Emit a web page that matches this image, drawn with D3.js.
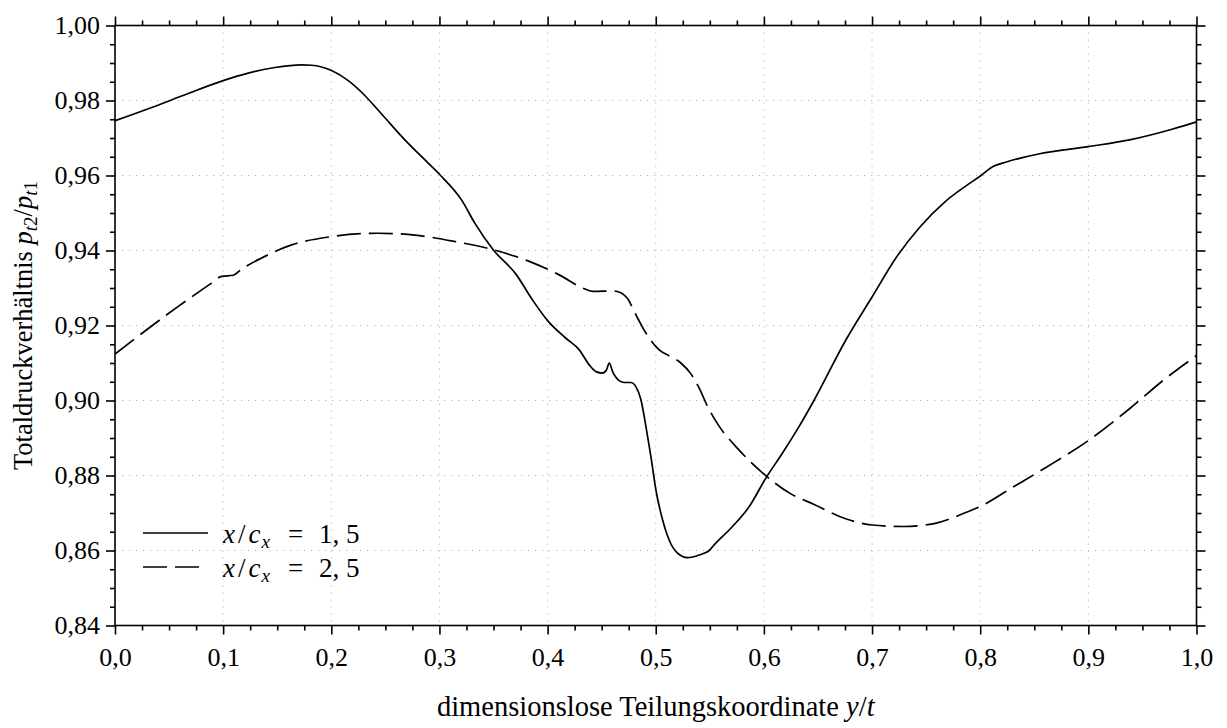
<!DOCTYPE html>
<html>
<head>
<meta charset="utf-8">
<script src="https://cdn.jsdelivr.net/npm/d3@7"></script>
<style>
  html, body { margin: 0; padding: 0; background: #fff; }
  svg { display: block; font-family: "Liberation Serif", "Times New Roman", serif; }
  .tick text { font-size: 26px; fill: #000; font-family: "Liberation Serif", serif; }
</style>
</head>
<body>
<svg id="chart" width="1227" height="728"></svg>
<script>
// Pitch position y/t and total pressure ratio at x/c_x = 1,5
const posA = [0, 0.0308, 0.0616, 0.1, 0.1232, 0.1479, 0.1725, 0.1818, 0.2002, 0.2157,
  0.228, 0.2465, 0.268, 0.2896, 0.3004, 0.3204, 0.3327, 0.3497, 0.3707, 0.3861,
  0.4, 0.4169, 0.4293, 0.4385, 0.4447, 0.4508, 0.4545, 0.457, 0.4601, 0.4662,
  0.4709, 0.477, 0.4816, 0.4863, 0.4909, 0.4955, 0.5001, 0.5063, 0.5124, 0.5201,
  0.5294, 0.5402, 0.5494, 0.554, 0.571, 0.5864, 0.6018, 0.6172, 0.6326, 0.6455,
  0.6763, 0.7, 0.7225, 0.7441, 0.7687, 0.7872, 0.7998, 0.8118, 0.8242, 0.855,
  0.9, 0.9381, 0.9782, 1.0];
const ratioA = [0.9746, 0.9778, 0.9812, 0.9853, 0.9873, 0.9888, 0.9895, 0.9894, 0.9880, 0.9853,
  0.9822, 0.9764, 0.9695, 0.9633, 0.9602, 0.9535, 0.9473, 0.9402, 0.9337, 0.9268,
  0.9213, 0.9166, 0.9135, 0.9095, 0.9077, 0.9073, 0.9082, 0.9100, 0.9077, 0.9053,
  0.9048, 0.9048, 0.9037, 0.9002, 0.8931, 0.8851, 0.8762, 0.8682, 0.8628, 0.8593,
  0.8581, 0.8588, 0.8600, 0.8615, 0.8664, 0.8717, 0.8793, 0.8860, 0.8931, 0.8996,
  0.9164, 0.9276, 0.9382, 0.9462, 0.9533, 0.9573, 0.9598, 0.9624, 0.9636, 0.9658,
  0.9677, 0.9695, 0.9724, 0.9743];

// Pitch position y/t and total pressure ratio at x/c_x = 2,5
const posB = [0, 0.0216, 0.0585, 0.0893, 0.0986, 0.1094, 0.117, 0.1356, 0.1633, 0.2002,
  0.2434, 0.2773, 0.3142, 0.3497, 0.383, 0.4108, 0.4323, 0.4416, 0.4616, 0.4724,
  0.4832, 0.4909, 0.5032, 0.5124, 0.5232, 0.5325, 0.5402, 0.5479, 0.5587, 0.5741,
  0.5956, 0.6249, 0.6455, 0.6763, 0.7, 0.7287, 0.7564, 0.7872, 0.7998, 0.8303,
  0.8611, 0.9, 0.9381, 0.9689, 1.0];
const ratioB = [0.9124, 0.9172, 0.9251, 0.9313, 0.9331, 0.9334, 0.9350, 0.9380, 0.9415, 0.9437,
  0.9446, 0.9441, 0.9424, 0.9402, 0.9371, 0.9335, 0.9300, 0.9291, 0.9292, 0.9277,
  0.9220, 0.9180, 0.9135, 0.9119, 0.9100, 0.9071, 0.9033, 0.8984, 0.8931, 0.8877,
  0.8815, 0.8751, 0.8724, 0.8684, 0.8668, 0.8664, 0.8671, 0.8702, 0.8717, 0.8769,
  0.8822, 0.8893, 0.8978, 0.9053, 0.9120];

const xTicks = [0, 0.1, 0.2, 0.3, 0.4, 0.5, 0.6, 0.7, 0.8, 0.9, 1.0];
const yTicks = [0.84, 0.86, 0.88, 0.90, 0.92, 0.94, 0.96, 0.98, 1.00];
const seriesLabels = [["1,", "5"], ["2,", "5"]];

const svg = d3.select("#chart");
const pL = 115, pR = 1196.5, pT = 25.5, pB = 625.5;

const x = d3.scaleLinear().domain([0, 1]).range([pL, pR]);
const y = d3.scaleLinear().domain([0.84, 1.00]).range([pB, pT]);

const de = d3.formatLocale({ decimal: ",", thousands: ".", grouping: [3], currency: ["", " €"] });
const fx = de.format(".1f"), fy = de.format(".2f");

const xMinor = d3.range(0, 1.0001, 0.025).filter(v => Math.abs(v * 10 - Math.round(v * 10)) > 1e-6);
const yMinor = d3.range(0.84, 1.0001, 0.005).filter(v => Math.abs(v * 50 - Math.round(v * 50)) > 1e-6);

// dotted grid at the major ticks
const grid = svg.append("g").attr("stroke", "#b4b4b4").attr("stroke-width", 1)
  .attr("stroke-dasharray", "1.2 5.8");
grid.selectAll("line.gx").data(xTicks.slice(1, -1)).join("line")
  .attr("x1", d => x(d)).attr("x2", d => x(d)).attr("y1", pT).attr("y2", pB);
grid.selectAll("line.gy").data(yTicks.slice(1, -1)).join("line")
  .attr("y1", d => y(d)).attr("y2", d => y(d)).attr("x1", pL).attr("x2", pR);

// curves
svg.append("clipPath").attr("id", "plot-clip").append("rect")
  .attr("x", pL).attr("y", pT).attr("width", pR - pL).attr("height", pB - pT);
const line = d3.line().x(d => x(d[0])).y(d => y(d[1])).curve(d3.curveMonotoneX);
const plot = svg.append("g").attr("clip-path", "url(#plot-clip)");
plot.append("path").datum(d3.zip(posA, ratioA)).attr("d", line)
  .attr("fill", "none").attr("stroke", "#000").attr("stroke-width", 1.7);
plot.append("path").datum(d3.zip(posB, ratioB)).attr("d", line)
  .attr("fill", "none").attr("stroke", "#000").attr("stroke-width", 1.7)
  .attr("stroke-dasharray", "24 8");

// axes: major ticks with labels, minor ticks without
function styleAxis(g) {
  g.select(".domain").remove();
  g.selectAll(".tick line").attr("stroke", "#000").attr("stroke-width", 1.6);
}
const noLabel = () => "";
svg.append("g").attr("transform", `translate(0,${pB})`)
  .call(d3.axisBottom(x).tickValues(xTicks).tickFormat(fx).tickSize(9).tickPadding(13))
  .call(styleAxis);
svg.append("g").attr("transform", `translate(0,${pB})`)
  .call(d3.axisBottom(x).tickValues(xMinor).tickFormat(noLabel).tickSize(5)).call(styleAxis);
svg.append("g").attr("transform", `translate(0,${pT})`)
  .call(d3.axisTop(x).tickValues(xTicks).tickFormat(noLabel).tickSize(9)).call(styleAxis);
svg.append("g").attr("transform", `translate(0,${pT})`)
  .call(d3.axisTop(x).tickValues(xMinor).tickFormat(noLabel).tickSize(5)).call(styleAxis);
svg.append("g").attr("transform", `translate(${pL},0)`)
  .call(d3.axisLeft(y).tickValues(yTicks).tickFormat(fy).tickSize(9).tickPadding(6))
  .call(styleAxis);
svg.append("g").attr("transform", `translate(${pL},0)`)
  .call(d3.axisLeft(y).tickValues(yMinor).tickFormat(noLabel).tickSize(5)).call(styleAxis);
svg.append("g").attr("transform", `translate(${pR},0)`)
  .call(d3.axisRight(y).tickValues(yTicks).tickFormat(noLabel).tickSize(9)).call(styleAxis);
svg.append("g").attr("transform", `translate(${pR},0)`)
  .call(d3.axisRight(y).tickValues(yMinor).tickFormat(noLabel).tickSize(5)).call(styleAxis);

// frame
svg.append("rect").attr("x", pL).attr("y", pT).attr("width", pR - pL).attr("height", pB - pT)
  .attr("fill", "none").attr("stroke", "#000").attr("stroke-width", 1.6);

// axis titles
const xt = svg.append("text").attr("x", (pL + pR) / 2).attr("y", 716)
  .attr("text-anchor", "middle").attr("font-size", 28.5);
xt.append("tspan").text("dimensionslose Teilungskoordinate ");
xt.append("tspan").attr("font-style", "italic").text("y");
xt.append("tspan").text("/");
xt.append("tspan").attr("font-style", "italic").text("t");

const yt = svg.append("text").attr("transform", `translate(32,${(pT + pB) / 2}) rotate(-90)`)
  .attr("text-anchor", "middle").attr("font-size", 26.5);
yt.append("tspan").text("Totaldruckverhältnis ");
yt.append("tspan").attr("font-style", "italic").text("p");
yt.append("tspan").attr("font-style", "italic").attr("font-size", 19).attr("dy", 5).text("t");
yt.append("tspan").attr("font-size", 19).text("2");
yt.append("tspan").attr("dy", -5).text("/");
yt.append("tspan").attr("font-style", "italic").text("p");
yt.append("tspan").attr("font-style", "italic").attr("font-size", 19).attr("dy", 5).text("t");
yt.append("tspan").attr("font-size", 19).text("1");

// legend
const legend = svg.append("g");
const rows = [{ dash: null, len: 65 }, { dash: "24 8", len: 56 }];
rows.forEach((r, i) => {
  const ly = 533 + i * 34;
  legend.append("line").attr("x1", 143).attr("x2", 143 + r.len).attr("y1", ly).attr("y2", ly)
    .attr("stroke", "#000").attr("stroke-width", 1.7).attr("stroke-dasharray", r.dash);
  const t = legend.append("text").attr("x", 223).attr("y", ly + 10).attr("font-size", 27);
  t.append("tspan").attr("font-style", "italic").text("x");
  t.append("tspan").attr("dx", 3).text("/");
  t.append("tspan").attr("dx", 3).attr("font-style", "italic").text("c");
  t.append("tspan").attr("dx", 1).attr("font-style", "italic").attr("font-size", 19).attr("dy", 5).text("x");
  t.append("tspan").attr("x", 288).attr("dy", -5).text("=");
  t.append("tspan").attr("x", 319).text(seriesLabels[i][0]);
  t.append("tspan").attr("x", 346).text(seriesLabels[i][1]);
});
</script>
</body>
</html>
